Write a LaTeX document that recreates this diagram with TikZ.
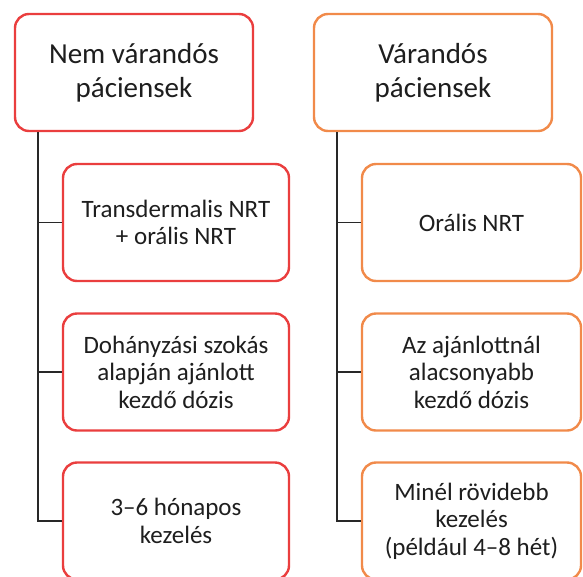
\documentclass[tikz,border=0pt]{standalone}
\usepackage{fontspec}
\setmainfont{Carlito}
\definecolor{cred}{RGB}{234,62,62}
\definecolor{corange}{RGB}{241,138,74}
\definecolor{ctext}{RGB}{30,30,30}
\definecolor{cline}{RGB}{40,40,40}
\tikzset{
  base/.style={rectangle, rounded corners=14pt, line width=2.4pt, fill=white,
    text=ctext, align=center, inner sep=0pt},
  topbox/.style={base, minimum width=238pt, minimum height=117pt,
    font=\fontsize{29}{34}\selectfont},
  childbox/.style={base, minimum height=117pt,
    font=\fontsize{25}{27.5}\selectfont},
  lchild/.style={childbox, draw=cred, minimum width=226pt},
  rchild/.style={childbox, draw=corange, minimum width=219pt},
  conn/.style={draw=cline, line width=1.4pt},
}
\begin{document}
\begin{tikzpicture}[x=1pt,y=-1pt]
\useasboundingbox (0,0) rectangle (583,576);
\begin{scope}
\clip (0,0) rectangle (583,576);
% left column
\node[topbox, draw=cred] (ltop) at (134,72.5) {Nem várandós\\páciensek};
\node[lchild] (l1) at (176,222.5) {Transdermalis NRT\\+ orális NRT};
\node[lchild] (l2) at (176,372) {Dohányzási szokás\\alapján ajánlott\\kezdő dózis};
\node[lchild] (l3) at (176,521) {3–6 hónapos\\kezelés};
% right column
\node[topbox, draw=corange] (rtop) at (433,72.5) {Várandós\\páciensek};
\node[rchild] (r1) at (471.5,222.5) {Orális NRT};
\node[rchild] (r2) at (471.5,372) {Az ajánlottnál\\alacsonyabb\\kezdő dózis};
\node[rchild] (r3) at (471.5,521) {Minél rövidebb\\kezelés\\(például 4–8 hét)};
% spines
\coordinate (ls) at (38,132);
\coordinate (rs) at (337,132);
\draw[conn] (ls) |- (l3.west);
\draw[conn] (ls |- l1.west) -- (l1.west);
\draw[conn] (ls |- l2.west) -- (l2.west);
\draw[conn] (rs) |- (r3.west);
\draw[conn] (rs |- r1.west) -- (r1.west);
\draw[conn] (rs |- r2.west) -- (r2.west);
\end{scope}
\end{tikzpicture}
\end{document}
